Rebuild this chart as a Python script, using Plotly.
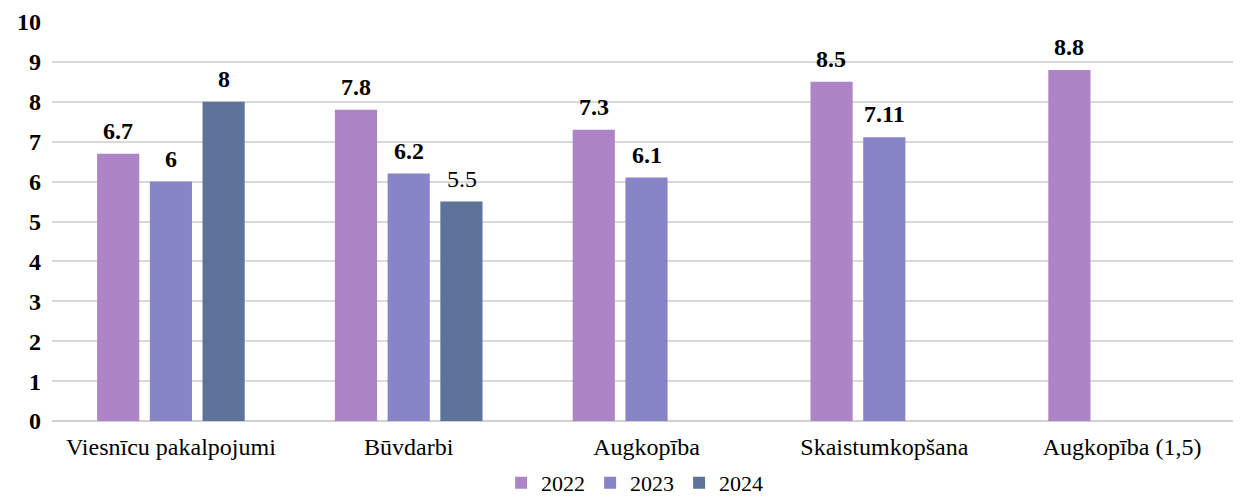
import plotly.graph_objects as go

categories = ["Viesnīcu pakalpojumi", "Būvdarbi", "Augkopība", "Skaistumkopšana", "Augkopība (1,5)"]
years = ["2022", "2023", "2024"]
values_2022 = [6.7, 7.8, 7.3, 8.5, 8.8]
values_2023 = [6, 6.2, 6.1, 7.11, None]
values_2024 = [8, 5.5, None, None, None]
labels_2022 = ["6.7", "7.8", "7.3", "8.5", "8.8"]
labels_2023 = ["6", "6.2", "6.1", "7.11", ""]
labels_2024 = ["8", "5.5", "", "", ""]
bold_2024 = [True, False, False, False, False]

series = [values_2022, values_2023, values_2024]
labels = [labels_2022, labels_2023, labels_2024]
bolds = [[True] * 5, [True] * 5, bold_2024]
colors = ["#AD84C6", "#8784C7", "#5E7399"]

FONT = "Liberation Serif"

fig = go.Figure()
for yr, vals, col in zip(years, series, colors):
    fig.add_trace(go.Bar(x=categories, y=vals, name=yr, marker_color=col,
                         marker_line_width=0))

# value labels above the bars
slot = 53
for i, (vals, labs, bl) in enumerate(zip(series, labels, bolds)):
    for c, v, t, b in zip(categories, vals, labs, bl):
        if v is None:
            continue
        fig.add_annotation(x=c, y=v, xref="x", yref="y", text=f"<b>{t}</b>" if b else t,
                           showarrow=False, yanchor="bottom", xshift=(i - 1) * slot, yshift=8,
                           font=dict(family=FONT, size=24, color="black"))

# page body has an 8px margin; figure runs past the window edges (clipped)
fig.update_layout(
    width=1241, height=513,
    margin=dict(l=44, r=8, t=14, b=100),
    plot_bgcolor="white", paper_bgcolor="white",
    barmode="group", bargap=0.335, bargroupgap=0.2,
    font=dict(family=FONT, color="black"),
    showlegend=True,
    legend=dict(orientation="h", x=0.49, xanchor="center", y=-0.155, yanchor="middle",
                font=dict(family=FONT, size=22), itemwidth=30, traceorder="normal"),
)
fig.update_xaxes(showgrid=False, ticks="", tickfont=dict(family=FONT, size=24),
                 showline=False, ticklabelstandoff=9)
fig.update_yaxes(range=[0, 10], dtick=1, showgrid=True, gridcolor="#D9D9D9", gridwidth=1.5,
                 zeroline=True, zerolinecolor="#D0D0D0", zerolinewidth=2, automargin=False,
                 tickfont=dict(family=FONT, size=24), ticklabelstandoff=10,
                 tickprefix="<b>", ticksuffix="</b>")

fig.write_html("out.html")
